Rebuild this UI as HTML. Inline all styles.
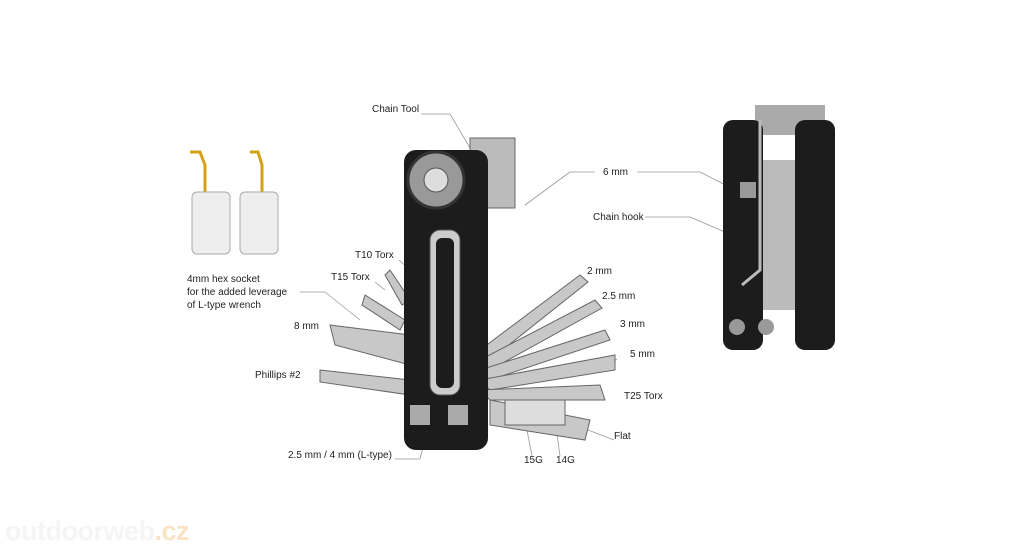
<!DOCTYPE html>
<html><head><meta charset="utf-8"><style>
html,body{margin:0;padding:0;background:#fff;}
body{width:1024px;height:546px;position:relative;overflow:hidden;font-family:"Liberation Sans",sans-serif;}
.l{position:absolute;font-size:10px;color:#222;white-space:nowrap;line-height:13px;}
svg{position:absolute;left:0;top:0;}
</style></head><body>
<svg width="1024" height="546" viewBox="0 0 1024 546">
<g stroke="#999" stroke-width="0.8" fill="none">
<line x1="421" y1="114" x2="450" y2="114"/><line x1="450" y1="114" x2="470" y2="148"/>
<line x1="595" y1="172" x2="570" y2="172"/><line x1="570" y1="172" x2="525" y2="205"/>
<line x1="637" y1="172" x2="700" y2="172"/><line x1="700" y1="172" x2="745" y2="195"/>
<line x1="645" y1="217" x2="690" y2="217"/><line x1="690" y1="217" x2="755" y2="245"/>
<line x1="399" y1="260" x2="410" y2="270"/>
<line x1="375" y1="282" x2="385" y2="290"/>
<line x1="300" y1="292" x2="325" y2="292"/><line x1="325" y1="292" x2="360" y2="320"/>
<line x1="617" y1="359" x2="600" y2="372"/>
<line x1="614" y1="440" x2="588" y2="430"/>
<line x1="395" y1="459" x2="420" y2="459"/><line x1="420" y1="459" x2="435" y2="400"/>
<line x1="532" y1="456" x2="525" y2="420"/><line x1="560" y1="456" x2="555" y2="420"/>
</g>
<g>
<path d="M190 152 L200 152 L205 165 L205 200" stroke="#d4a017" stroke-width="3" fill="none"/>
<path d="M250 152 L258 152 L262 165 L262 200" stroke="#d4a017" stroke-width="3" fill="none"/>
<rect x="192" y="192" width="38" height="62" rx="5" fill="#eee" stroke="#aaa"/>
<rect x="240" y="192" width="38" height="62" rx="5" fill="#eee" stroke="#aaa"/>
</g>
<g fill="#c8c8c8" stroke="#666" stroke-width="1">
<polygon points="330,325 410,335 410,365 335,345"/>
<polygon points="320,370 410,380 410,395 320,382"/>
<polygon points="365,295 405,320 400,330 362,305"/>
<polygon points="390,270 410,300 402,305 385,275"/>
<polygon points="480,350 580,275 588,282 490,360"/>
<polygon points="480,360 595,300 602,308 490,370"/>
<polygon points="480,370 605,330 610,340 490,380"/>
<polygon points="480,380 615,355 615,370 490,390"/>
<polygon points="480,390 600,385 605,400 490,400"/>
<polygon points="490,400 590,420 585,440 490,425"/>
<rect x="505" y="400" width="60" height="25" fill="#ddd"/>
<rect x="470" y="138" width="45" height="70" fill="#bbb"/>
</g>
<rect x="404" y="150" width="84" height="300" rx="12" fill="#1c1c1c"/>
<rect x="430" y="230" width="30" height="165" rx="10" fill="#ccc" stroke="#555"/>
<rect x="436" y="238" width="18" height="150" rx="6" fill="#1c1c1c"/>
<circle cx="436" cy="180" r="28" fill="#999" stroke="#333" stroke-width="3"/>
<circle cx="436" cy="180" r="12" fill="#ddd" stroke="#555"/>
<rect x="410" y="405" width="20" height="20" fill="#aaa"/><rect x="448" y="405" width="20" height="20" fill="#aaa"/>
<rect x="755" y="105" width="70" height="30" fill="#aaa"/>
<rect x="723" y="120" width="40" height="230" rx="10" fill="#1c1c1c"/>
<rect x="795" y="120" width="40" height="230" rx="10" fill="#1c1c1c"/>
<rect x="763" y="160" width="32" height="150" fill="#bbb"/>
<rect x="740" y="182" width="16" height="16" fill="#999"/>
<path d="M760 120 L760 270 L742 285" stroke="#bbb" stroke-width="3" fill="none"/>
<circle cx="737" cy="327" r="8" fill="#999"/><circle cx="766" cy="327" r="8" fill="#999"/>
</svg>
<div class="l" style="left:372px;top:103px">Chain Tool</div>
<div class="l" style="left:603px;top:166px">6 mm</div>
<div class="l" style="left:593px;top:211px">Chain hook</div>
<div class="l" style="left:355px;top:249px">T10 Torx</div>
<div class="l" style="left:587px;top:265px">2 mm</div>
<div class="l" style="left:331px;top:271px">T15 Torx</div>
<div class="l" style="left:187px;top:273px">4mm hex socket<br>for the added leverage<br>of L-type wrench</div>
<div class="l" style="left:602px;top:290px">2.5 mm</div>
<div class="l" style="left:294px;top:320px">8 mm</div>
<div class="l" style="left:620px;top:318px">3 mm</div>
<div class="l" style="left:630px;top:348px">5 mm</div>
<div class="l" style="left:255px;top:369px">Phillips #2</div>
<div class="l" style="left:624px;top:390px">T25 Torx</div>
<div class="l" style="left:614px;top:430px">Flat</div>
<div class="l" style="left:288px;top:449px">2.5 mm / 4 mm (L-type)</div>
<div class="l" style="left:524px;top:454px">15G</div>
<div class="l" style="left:556px;top:454px">14G</div>
<div style="position:absolute;left:5px;top:516px;font-size:27px;font-weight:bold;color:#f5f5f5;letter-spacing:-0.5px">outdoorweb<span style="color:#fae2c4">.cz</span></div>
</body></html>
